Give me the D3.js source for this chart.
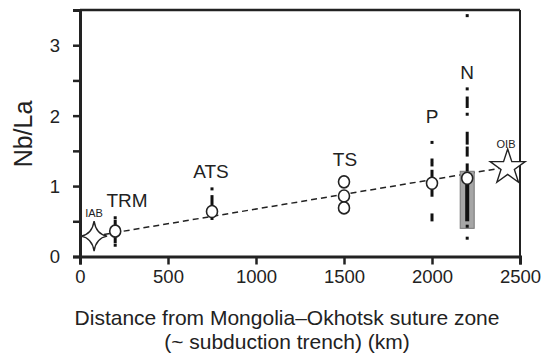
<!DOCTYPE html>
<html>
<head>
<meta charset="utf-8">
<script src="https://cdn.jsdelivr.net/npm/d3@7"></script>
<style>
body { margin: 0; background: #fff; }
svg text { font-family: "Liberation Sans", Arial, sans-serif; fill: #222; }
</style>
</head>
<body>
<svg></svg>
<script>
// values
let sampleNames = ["TRM", "ATS", "TS", "P", "N"]
let sampleDist = [200, 750, 1500, 2000, 2200]
let sampleMean = [[0.36], [0.64], [1.06, 0.86, 0.69], [1.04], [1.11]]
// vertical spread of each group as [top, bottom] pieces
let sampleSpread = [
    [[0.55, 0.55], [0.50, 0.45], [0.27, 0.21], [0.16, 0.16]],
    [[0.96, 0.96], [0.85, 0.72], [0.55, 0.54]],
    [],
    [[1.62, 1.62], [1.37, 1.36], [1.32, 1.30], [1.21, 0.87], [0.59, 0.52]],
    [[3.42, 3.42], [2.38, 2.38], [2.25, 2.13], [2.02, 2.02], [1.75, 1.61], [1.54, 1.44], [1.30, 1.23], [0.43, 0.43], [0.26, 0.26]]
]
let nCore = [1.11, 0.50]
let nBox = [1.21, 0.40]

let endNames = ["IAB", "OIB"]
let endDist = [80, 2430]
let endNbLa = [0.29, 1.28]

let trendDist = [80, 2500]
let trendNbLa = [0.29, 1.30]

let xTicks = [0, 500, 1000, 1500, 2000, 2500]
let yTicks = [0, 0.5, 1, 1.5, 2, 2.5, 3]

let width = 545
let height = 353
let padLeft = 80, padRight = 520, padTop = 10, padBottom = 256.5

let svg = d3.select('svg').attr('width', width).attr('height', height)

let xScale = d3.scaleLinear().domain([0, 2500]).range([padLeft, padRight])
let yScale = d3.scaleLinear().domain([0, 3.5]).range([padBottom, padTop])

// frame
svg.append('line').attr('x1', padLeft).attr('x2', padRight).attr('y1', padTop).attr('y2', padTop)
    .attr('stroke', '#222').attr('stroke-width', 2.5)
svg.append('line').attr('x1', padRight).attr('x2', padRight).attr('y1', padTop).attr('y2', padBottom)
    .attr('stroke', '#222').attr('stroke-width', 2)

let xAxis = d3.axisBottom(xScale).tickValues(xTicks).tickSize(8).tickPadding(5).tickFormat(d3.format('d'))
let yAxis = d3.axisLeft(yScale).tickValues(yTicks).tickSize(7).tickPadding(13)
    .tickFormat(d => Number.isInteger(d) ? d : '')

let gx = svg.append('g').attr('transform', 'translate(0,' + padBottom + ')').call(xAxis)
let gy = svg.append('g').attr('transform', 'translate(' + padLeft + ',0)').call(yAxis)

for (let g of [gx, gy]) {
    g.select('.domain').attr('stroke', '#222').attr('stroke-width', 3)
    g.selectAll('.tick line').attr('stroke', '#222').attr('stroke-width', 2.5)
    g.selectAll('.tick text').style('font-size', '18.5px').attr('fill', '#222')
}
gy.selectAll('.tick text').attr('dy', '0.35em')

// trend line
svg.append('path')
    .datum(d3.zip(trendDist, trendNbLa))
    .attr('d', d3.line().x(d => xScale(d[0])).y(d => yScale(d[1])))
    .attr('fill', 'none').attr('stroke', '#222').attr('stroke-width', 1.5)
    .attr('stroke-dasharray', '6,4')

// N grey box
svg.append('rect')
    .attr('x', xScale(2200) - 7).attr('width', 14)
    .attr('y', yScale(nBox[0])).attr('height', yScale(nBox[1]) - yScale(nBox[0]))
    .attr('fill', '#a6a6a6').attr('stroke', '#777').attr('stroke-width', 1)
svg.append('line')
    .attr('x1', xScale(2200)).attr('x2', xScale(2200))
    .attr('y1', yScale(nCore[0])).attr('y2', yScale(nCore[1]))
    .attr('stroke', '#111').attr('stroke-width', 4)

// spread pieces
sampleNames.forEach((name, i) => {
    let x = xScale(sampleDist[i])
    svg.selectAll(null)
        .data(sampleSpread[i])
        .enter()
        .append('rect')
        .attr('x', x - 1.5)
        .attr('width', 3)
        .attr('y', d => yScale(d[0]) - 1.5)
        .attr('height', d => yScale(d[1]) - yScale(d[0]) + 3)
        .attr('fill', '#111')
})

// mean points
sampleNames.forEach((name, i) => {
    svg.selectAll(null)
        .data(sampleMean[i])
        .enter()
        .append('ellipse')
        .attr('cx', xScale(sampleDist[i]))
        .attr('cy', d => yScale(d))
        .attr('rx', 5.5).attr('ry', 6)
        .attr('fill', '#fff').attr('stroke', '#222').attr('stroke-width', 1.6)
})

// labels
let labelY = [200, 171, 159, 116, 72]
let labelX = [127, 211, 345, 432, 467]
sampleNames.forEach((name, i) => {
    svg.append('text').attr('x', labelX[i]).attr('y', labelY[i]).attr('dy', '0.35em')
        .attr('text-anchor', 'middle').style('font-size', '19px').text(name)
})

// end-member stars
let star4 = (rx, ry, ri) => {
    let p = d3.path()
    p.moveTo(0, -ry)
    p.quadraticCurveTo(ri, -ri, rx, 0)
    p.quadraticCurveTo(ri, ri, 0, ry)
    p.quadraticCurveTo(-ri, ri, -rx, 0)
    p.quadraticCurveTo(-ri, -ri, 0, -ry)
    p.closePath()
    return p.toString()
}
svg.append('path')
    .attr('transform', 'translate(' + xScale(endDist[0]) + ',' + yScale(endNbLa[0]) + ')')
    .attr('d', star4(13, 15, 2))
    .attr('fill', '#fff').attr('stroke', '#222').attr('stroke-width', 1.4)
svg.append('path')
    .attr('transform', 'translate(' + xScale(endDist[1]) + ',' + (yScale(endNbLa[1]) + 1) + ')')
    .attr('d', d3.symbol(d3.symbolStar, 380)())
    .attr('fill', '#fff').attr('stroke', '#222').attr('stroke-width', 1.4)

svg.append('text').attr('x', 94).attr('y', 213).attr('dy', '0.35em').attr('text-anchor', 'middle')
    .style('font-size', '11px').text(endNames[0])
svg.append('text').attr('x', 506).attr('y', 144).attr('dy', '0.35em').attr('text-anchor', 'middle')
    .style('font-size', '11px').text(endNames[1])

// axis titles
svg.append('text').attr('x', 287).attr('y', 318).attr('dy', '0.35em').attr('text-anchor', 'middle')
    .style('font-size', '21px').text('Distance from Mongolia\u2013Okhotsk suture zone')
svg.append('text').attr('x', 287).attr('y', 342).attr('dy', '0.35em').attr('text-anchor', 'middle')
    .style('font-size', '21px').text('(~ subduction trench) (km)')
svg.append('text').attr('transform', 'translate(23,134) rotate(-90)').attr('dy', '0.35em')
    .attr('text-anchor', 'middle').style('font-size', '25px').text('Nb/La')
</script>
</body>
</html>
